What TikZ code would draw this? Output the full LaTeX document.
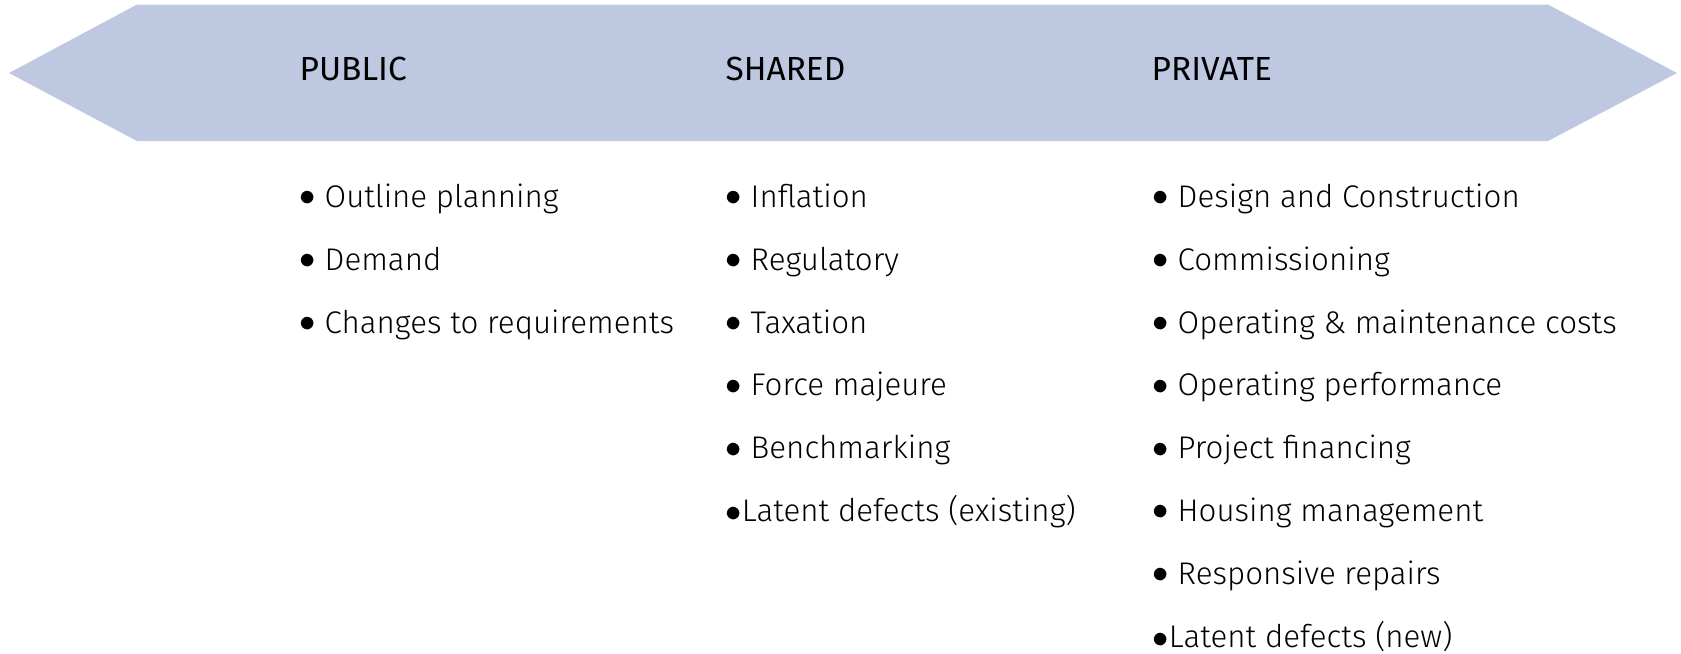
\documentclass[tikz,border=0pt]{standalone}
\usepackage{fontspec}
\setmainfont{Fira Sans}
\newfontfamily\lightfont{Fira Sans}[UprightFont=* Light]
\definecolor{bandblue}{RGB}{190,200,225}
\newcommand{\blt}{\raisebox{0.1ex}{$\bullet$}\kern0.28em}
\tikzset{
	head/.style={anchor=base west, inner sep=0pt, font=\fontsize{9.5}{11}\selectfont},
	item/.style={anchor=base west, inner sep=0pt, font=\lightfont\fontsize{8.9}{11}\selectfont}
}

\begin{document}
\begin{tikzpicture}[x=0.01cm,y=-0.01cm]
	\useasboundingbox (0,0) rectangle (1681,653);
	% define coordinates
	\coordinate (L) at (9,73);
	\coordinate (R) at (1677,73);
	\coordinate (TL) at (137,4.5);
	\coordinate (TR) at (1548,4.5);
	\coordinate (BL) at (137,141);
	\coordinate (BR) at (1548,141);
	% band
	\fill[bandblue] (L) -- (TL) -- (TR) -- (R) -- (BR) -- (BL) -- cycle;
	% headings
	\node[head] (public) at (299,80) {PUBLIC};
	\node[head] (shared) at (725,80) {SHARED};
	\node[head] (private) at (1151,80) {PRIVATE};
	% public items
	\foreach \t [count=\i] in {Outline planning, Demand, Changes to requirements}
		\node[item] (pub\i) at (299,{207.5+62.8*(\i-1)}) {\blt\t};
	% shared items
	\foreach \t [count=\i] in {Inflation, Regulatory, Taxation, Force majeure, Benchmarking}
		\node[item] (sha\i) at (725,{207.5+62.8*(\i-1)}) {\blt\t};
	\node[item] (sha6) at (725,{207.5+62.8*5}) {$\bullet$Latent defects (existing)};
	% private items
	\foreach \t [count=\i] in {Design and Construction, Commissioning, {Operating \& maintenance costs}, Operating performance, Project financing, Housing management, Responsive repairs}
		\node[item] (pri\i) at (1152,{207.5+62.8*(\i-1)}) {\blt\t};
	\node[item] (pri8) at (1152,{207.5+62.8*7}) {$\bullet$Latent defects (new)};
\end{tikzpicture}
\end{document}
